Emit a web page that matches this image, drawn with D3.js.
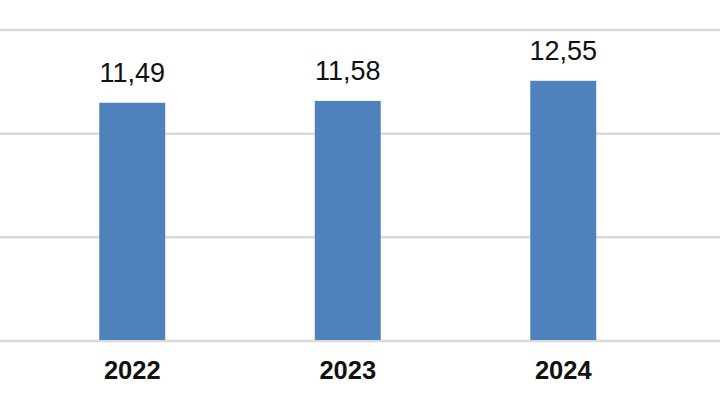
<!DOCTYPE html>
<html><head><meta charset="utf-8">
<script src="https://cdn.jsdelivr.net/npm/d3@7"></script>
<style>html,body{margin:0;padding:0;background:#fff;}svg{display:block;}</style>
</head><body>
<svg id="c" width="720" height="405"></svg>
<script>
const categories = ["2022", "2023", "2024"];
const values = [11.49, 11.58, 12.55];
const valueLabels = ["11,49", "11,58", "12,55"];
const gridTicks = [0, 5, 10, 15];

const svg = d3.select("#c");
const y = d3.scaleLinear().domain([0, 15]).range([341, 30]);
const x = d3.scaleBand().domain(categories).range([24.5, 671]).paddingInner(0.694).paddingOuter(0.347);

svg.append("g").selectAll("line").data(gridTicks).join("line")
  .attr("x1", 0).attr("x2", 720)
  .attr("y1", d => y(d)).attr("y2", d => y(d))
  .attr("stroke", "#d9d9d9").attr("stroke-width", 2.5);

svg.append("g").selectAll("rect").data(values).join("rect")
  .attr("x", (d, i) => x(categories[i]))
  .attr("width", x.bandwidth())
  .attr("y", d => y(d))
  .attr("height", d => y(0) - y(d) - 1)
  .attr("fill", "#4f81bd");

svg.append("g").selectAll("text").data(values).join("text")
  .attr("x", (d, i) => x(categories[i]) + x.bandwidth() / 2)
  .attr("y", d => y(d) - 21)
  .attr("text-anchor", "middle")
  .attr("font-family", "Liberation Sans, Arial, sans-serif")
  .attr("font-size", 27)
  .attr("fill", "#111")
  .text((d, i) => valueLabels[i]);

const xAxis = d3.axisBottom(x).tickSize(0).tickPadding(0);
const ax = svg.append("g").attr("transform", "translate(0,341)").call(xAxis);
ax.select(".domain").remove();
ax.selectAll("text")
  .attr("y", 38).attr("dy", 0)
  .attr("font-family", "Liberation Sans, Arial, sans-serif")
  .attr("font-size", 25.5).attr("font-weight", "bold")
  .attr("fill", "#111");
</script>
</body></html>
